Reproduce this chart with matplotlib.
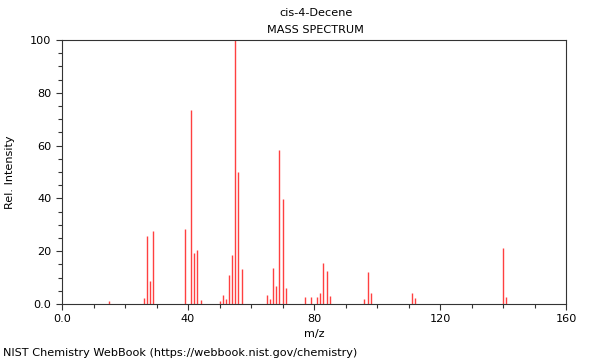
import matplotlib
matplotlib.use("Agg")
import matplotlib.pyplot as plt
from matplotlib.ticker import MultipleLocator, FixedLocator, FixedFormatter

mz = [15, 26, 27, 28, 29, 39, 41, 42, 43, 44, 50, 51, 52, 53, 54, 55, 56, 57,
      65, 66, 67, 68, 69, 70, 71, 77, 79, 81, 82, 83, 84, 85, 96, 97, 98,
      111, 112, 140, 141]
intensity = [1.2, 2.4, 25.9, 8.7, 27.8, 28.4, 73.5, 19.2, 20.5, 1.5, 1.0, 3.4, 2.0, 11.0, 18.6, 100.0, 50.0, 13.4,
             3.4, 2.0, 13.8, 6.9, 58.3, 39.6, 6.1, 2.6, 2.6, 2.6, 4.2, 15.5, 12.4, 3.2, 1.9, 12.1, 4.2,
             4.2, 2.3, 21.2, 2.5]

x_ticks = [0, 40, 80, 120, 160]
x_tick_labels = ["0.0", "40", "80", "120", "160"]
y_ticks = [0, 20, 40, 60, 80, 100]
y_tick_labels = ["0.0", "20", "40", "60", "80", "100"]

fig = plt.figure(figsize=(6, 3.6), dpi=100)
ax = fig.add_axes([62/600, 1 - 304/360, 504/600, 264/360])
ax.vlines(mz, 0, intensity, colors="#ff4040", linewidth=1.0)
ax.set_xlim(0, 160)
ax.set_ylim(0, 100)

ax.xaxis.set_major_locator(FixedLocator(x_ticks))
ax.xaxis.set_major_formatter(FixedFormatter(x_tick_labels))
ax.yaxis.set_major_locator(FixedLocator(y_ticks))
ax.yaxis.set_major_formatter(FixedFormatter(y_tick_labels))
ax.xaxis.set_minor_locator(MultipleLocator(10))
ax.yaxis.set_minor_locator(MultipleLocator(5))
ax.tick_params(axis="both", which="major", length=4, width=0.8, labelsize=8.1, colors="#333333", labelcolor="black")
ax.tick_params(axis="both", which="minor", length=3, width=0.8, colors="#333333")
for s in ax.spines.values():
    s.set_color("#333333")
    s.set_linewidth(0.8)

ax.set_xlabel("m/z", fontsize=8.1, labelpad=3)
ax.set_ylabel("Rel. Intensity", fontsize=8.1, labelpad=11)
fig.text(0.526, 1 - 13/360, "cis-4-Decene", ha="center", va="center", fontsize=8.1)
fig.text(0.526, 1 - 30/360, "MASS SPECTRUM", ha="center", va="center", fontsize=8.1)
fig.text(3/600, 1 - 353/360, "NIST Chemistry WebBook (https://webbook.nist.gov/chemistry)",
         ha="left", va="center", fontsize=8.1)

fig.savefig("out.png", dpi=100)
